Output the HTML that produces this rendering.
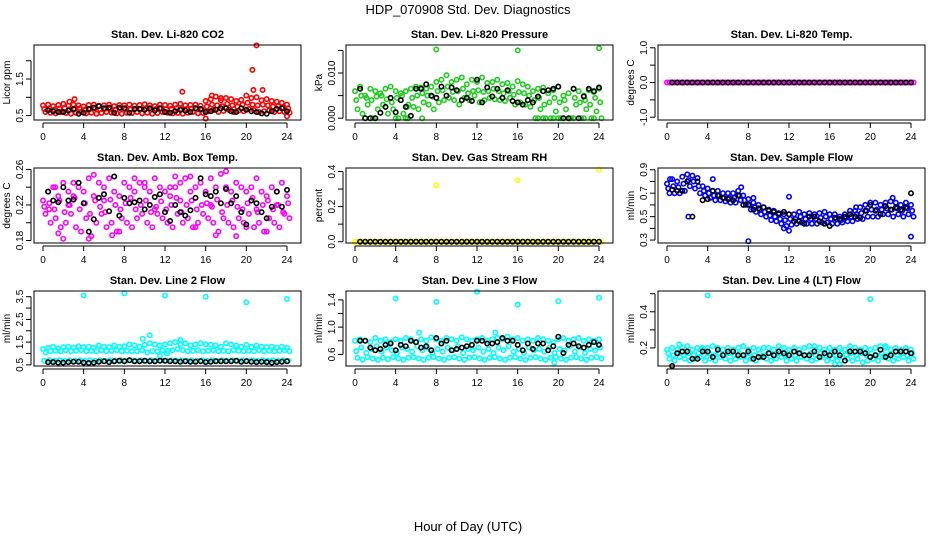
<!DOCTYPE html>
<html><head><meta charset="utf-8"><style>
body{margin:0;background:#fff}
svg{display:block;font-family:"Liberation Sans",Arial,sans-serif}
</style></head><body>
<svg id="chart" width="936" height="540" viewBox="0 0 936 540">
<text x="468" y="14" text-anchor="middle" font-size="13">HDP_070908  Std. Dev. Diagnostics</text>
<text x="468" y="531" text-anchor="middle" font-size="13">Hour of Day (UTC)</text>
</svg>
<script>
const hours = [0,4,8,12,16,20,24];
const co2Hi = [0.78,0.8,0.76,0.79,0.82,0.77,0.8,0.78,0.75,0.79,0.8,0.77,0.78,0.8,0.76,0.79,0.78,0.8,0.77,0.79,0.81,0.78,0.76,0.8,0.79,0.77,0.8,0.82,0.78,0.79,0.8,0.77,0.9,0.95,1.02,0.92,0.98,0.95,0.9,0.93,1.05,0.98,1.0,0.92,0.95,0.9,0.88,0.85,0.8];
const co2Lo = [0.6,0.58,0.56,0.6,0.57,0.55,0.58,0.6,0.56,0.58,0.55,0.57,0.6,0.58,0.56,0.55,0.58,0.57,0.6,0.56,0.58,0.55,0.57,0.6,0.58,0.56,0.57,0.55,0.58,0.6,0.56,0.57,0.62,0.65,0.6,0.63,0.66,0.6,0.64,0.62,0.68,0.65,0.6,0.62,0.64,0.6,0.62,0.6,0.58];
const co2Mid = [0.68,0.7,0.66,0.69,0.7,0.67,0.68,0.7,0.66,0.68,0.7,0.67,0.69,0.68,0.66,0.7,0.68,0.67,0.69,0.68,0.7,0.66,0.68,0.69,0.67,0.68,0.7,0.67,0.68,0.69,0.68,0.67,0.75,0.8,0.78,0.76,0.82,0.78,0.75,0.8,0.85,0.8,0.78,0.8,0.78,0.75,0.76,0.72,0.7];
const co2OutX = [3.1,13.7,16,16.6,20.6,20.7,21,21.6,24,2.6,17.5];
const co2OutY = [0.95,1.15,0.42,1.05,1.75,1.2,2.42,1.2,0.48,0.88,0.98];
const co2Blk = [0.65,0.62,0.6,0.6,0.64,0.68,0.55,0.58,0.68,0.72,0.76,0.7,0.72,0.58,0.72,0.7,0.58,0.68,0.68,0.66,0.7,0.64,0.7,0.6,0.58,0.62,0.66,0.64,0.6,0.7,0.68,0.6,0.62,0.66,0.7,0.7,0.62,0.6,0.7,0.66,0.62,0.6,0.56,0.55,0.62,0.68,0.7,0.62];

const prsHi = [0.006,0.007,0.005,0.0065,0.006,0.0055,0.0065,0.007,0.006,0.0055,0.006,0.0065,0.007,0.0068,0.0065,0.007,0.008,0.0085,0.0095,0.008,0.0085,0.009,0.0075,0.0085,0.008,0.009,0.0078,0.008,0.0085,0.0075,0.0078,0.007,0.0082,0.0075,0.007,0.006,0.0065,0.0068,0.0055,0.0062,0.007,0.005,0.0055,0.0065,0.006,0.005,0.0062,0.0058,0.0065];
const prsLo = [0.002,0.001,0.003,0,0.002,0.003,0.001,0.002,0,0.001,0.003,0.0025,0.002,0.0035,0.003,0.002,0.0035,0.004,0.0045,0.004,0.003,0.0045,0.004,0.005,0.0035,0.004,0.0045,0.0042,0.004,0.0038,0.0045,0.003,0.0035,0.003,0.0025,0,0.002,0,0,0.0015,0,0.002,0,0.003,0,0.002,0,0.0015,0];
const prsMid = [0.004,0.005,0.0045,0.004,0.0048,0.005,0.0042,0.0035,0.0045,0.005,0.0025,0.0045,0.005,0.0055,0.005,0.0048,0.006,0.0062,0.007,0.0058,0.006,0.0065,0.0055,0.006,0.0062,0.0058,0.006,0.0065,0.006,0.0055,0.006,0.0052,0.0058,0.0055,0.005,0.004,0.0045,0.003,0.0035,0.0045,0.0035,0.004,0,0.0045,0.0035,0.004,0.003,0.0045,0.0035];
const prsOutX = [8,16,24,1,1.5,2,4,5,5.2,6.6,18,18.5,19.5,20,20.5,21.5,22.5,23.5];
const prsOutY = [0.0152,0.015,0.0155,0,0,0,0,0,0,0,0,0,0,0,0,0,0,0];
const prsBlk = [0.0065,0,0,0,0.0012,0.0025,0.0045,0.0013,0.004,0.0025,0.0005,0.0065,0.0065,0.0075,0.005,0.0045,0.007,0.005,0.0068,0.0062,0.004,0.0045,0.0038,0.0085,0.0035,0.0068,0.0048,0.0065,0.0045,0.0062,0.0038,0.0035,0.003,0.004,0.0035,0.0048,0.006,0.0062,0.0065,0.007,0,0,0.0065,0,0.0048,0.0065,0.006,0.0068];

const tmpHi = [0,0,0,0,0,0,0,0,0,0,0,0,0,0,0,0,0,0,0,0,0,0,0,0,0,0,0,0,0,0,0,0,0,0,0,0,0,0,0,0,0,0,0,0,0,0,0,0,0];
const tmpLo = [0,0,0,0,0,0,0,0,0,0,0,0,0,0,0,0,0,0,0,0,0,0,0,0,0,0,0,0,0,0,0,0,0,0,0,0,0,0,0,0,0,0,0,0,0,0,0,0,0];
const tmpOutX = [];
const tmpOutY = [];
const tmpBlk = [0,0,0,0,0,0,0,0,0,0,0,0,0,0,0,0,0,0,0,0,0,0,0,0,0,0,0,0,0,0,0,0,0,0,0,0,0,0,0,0,0,0,0,0,0,0,0,0];

const ambHi = [0.225,0.235,0.24,0.23,0.245,0.235,0.23,0.24,0.235,0.25,0.23,0.245,0.24,0.25,0.235,0.23,0.245,0.24,0.235,0.245,0.24,0.235,0.25,0.24,0.235,0.23,0.24,0.245,0.25,0.235,0.24,0.245,0.235,0.25,0.24,0.255,0.24,0.235,0.245,0.24,0.235,0.24,0.25,0.235,0.23,0.24,0.235,0.245,0.23];
const ambLo = [0.21,0.2,0.205,0.195,0.2,0.21,0.195,0.19,0.205,0.185,0.2,0.21,0.195,0.2,0.19,0.205,0.2,0.195,0.205,0.21,0.2,0.195,0.21,0.205,0.2,0.195,0.21,0.2,0.205,0.195,0.2,0.21,0.205,0.2,0.19,0.205,0.2,0.195,0.205,0.2,0.21,0.195,0.2,0.19,0.205,0.2,0.195,0.21,0.205];
const ambMid = [0.218,0.222,0.215,0.225,0.212,0.22,0.228,0.215,0.222,0.21,0.225,0.218,0.212,0.226,0.22,0.215,0.222,0.228,0.215,0.22,0.225,0.212,0.218,0.224,0.215,0.22,0.228,0.212,0.22,0.225,0.215,0.22,0.222,0.218,0.226,0.212,0.22,0.225,0.218,0.215,0.222,0.228,0.212,0.22,0.225,0.215,0.22,0.212,0.222];
const ambOutX = [1.5,2,4.5,6.8,5,9,13,14.5,17,19,1.2,3,7.5,10,12.5,15,18,20,22,0.6,2.5,6,8.5,11,13.5,16.5,21,23];
const ambOutY = [0.188,0.182,0.182,0.186,0.254,0.25,0.252,0.252,0.186,0.185,0.24,0.245,0.19,0.245,0.24,0.195,0.258,0.195,0.19,0.215,0.22,0.225,0.222,0.215,0.225,0.22,0.215,0.22];
const ambBlk = [0.235,0.225,0.223,0.24,0.225,0.226,0.245,0.222,0.19,0.204,0.228,0.232,0.213,0.252,0.208,0.228,0.222,0.223,0.225,0.215,0.22,0.229,0.232,0.212,0.202,0.22,0.212,0.208,0.214,0.228,0.25,0.232,0.23,0.235,0.222,0.238,0.222,0.23,0.212,0.198,0.225,0.222,0.212,0.205,0.218,0.235,0.218,0.237];

const rhHi = [0,0,0,0,0,0,0,0,0,0,0,0,0,0,0,0,0,0,0,0,0,0,0,0,0,0,0,0,0,0,0,0,0,0,0,0,0,0,0,0,0,0,0,0,0,0,0,0,0];
const rhLo = [0,0,0,0,0,0,0,0,0,0,0,0,0,0,0,0,0,0,0,0,0,0,0,0,0,0,0,0,0,0,0,0,0,0,0,0,0,0,0,0,0,0,0,0,0,0,0,0,0];
const rhOutX = [8,16,24];
const rhOutY = [0.32,0.35,0.41];
const rhBlk = [0,0,0,0,0,0,0,0,0,0,0,0,0,0,0,0,0,0,0,0,0,0,0,0,0,0,0,0,0,0,0,0,0,0,0,0,0,0,0,0,0,0,0,0,0,0,0,0];

const sfHi = [0.78,0.82,0.8,0.84,0.86,0.85,0.83,0.76,0.74,0.72,0.72,0.7,0.7,0.7,0.72,0.68,0.65,0.62,0.6,0.58,0.56,0.55,0.53,0.52,0.52,0.52,0.54,0.52,0.53,0.52,0.53,0.54,0.52,0.52,0.5,0.52,0.55,0.55,0.58,0.6,0.62,0.62,0.6,0.62,0.63,0.62,0.6,0.62,0.6];
const sfLo = [0.7,0.7,0.7,0.72,0.76,0.74,0.7,0.68,0.66,0.64,0.64,0.63,0.62,0.62,0.64,0.6,0.56,0.54,0.52,0.5,0.47,0.46,0.44,0.42,0.43,0.44,0.45,0.44,0.44,0.44,0.45,0.45,0.44,0.44,0.45,0.46,0.46,0.48,0.48,0.5,0.5,0.5,0.52,0.52,0.5,0.52,0.5,0.52,0.5];
const sfMid = [0.74,0.76,0.75,0.78,0.81,0.8,0.76,0.72,0.7,0.68,0.68,0.66,0.66,0.66,0.68,0.64,0.6,0.58,0.56,0.54,0.51,0.5,0.48,0.47,0.48,0.48,0.5,0.48,0.48,0.48,0.49,0.5,0.48,0.48,0.47,0.49,0.5,0.52,0.53,0.55,0.56,0.56,0.56,0.57,0.56,0.57,0.55,0.57,0.55];
const sfOutX = [8,16,24,12,2.1,0.3,4.5,7.3,8.5,11.5,12,18.6,22.2];
const sfOutY = [0.29,0.27,0.33,0.67,0.5,0.82,0.82,0.75,0.66,0.4,0.38,0.58,0.66];
const sfBlk = [0.73,0.72,0.72,0.8,0.5,0.8,0.64,0.65,0.72,0.68,0.66,0.65,0.64,0.68,0.6,0.6,0.56,0.57,0.58,0.55,0.54,0.52,0.54,0.52,0.46,0.46,0.44,0.5,0.5,0.46,0.44,0.42,0.49,0.48,0.5,0.52,0.5,0.49,0.55,0.6,0.55,0.52,0.59,0.56,0.58,0.56,0.58,0.7];

const l2Hi = [1.2,1.25,1.3,1.22,1.28,1.3,1.25,1.32,1.28,1.3,1.25,1.35,1.3,1.28,1.35,1.3,1.32,1.4,1.35,1.3,1.38,1.45,1.4,1.35,1.4,1.45,1.5,1.4,1.45,1.35,1.4,1.45,1.4,1.38,1.35,1.3,1.45,1.4,1.35,1.3,1.38,1.3,1.35,1.3,1.28,1.3,1.25,1.3,1.25];
const l2Lo = [1.05,1.1,1.12,1.1,1.15,1.1,1.12,1.15,1.1,1.12,1.1,1.15,1.1,1.12,1.15,1.1,1.12,1.1,1.1,1.15,1.05,1.1,1.1,1.15,1.12,1.15,1.2,1.15,1.1,1.12,1.15,1.1,1.12,1.15,1.1,1.12,1.1,1.15,1.12,1.1,1.12,1.1,1.15,1.1,1.12,1.1,1.12,1.15,1.1];
const l2Ex = [0.68,0.7,0.68,0.7,0.68,0.7,0.68,0.7,0.68,0.7,0.68,0.7,0.68,0.7,0.68,0.7,0.68,0.7,0.68,0.7,0.68,0.7,0.68,0.7,0.68,0.7,0.68,0.7,0.68,0.7,0.68,0.7,0.68,0.7,0.68,0.7,0.68,0.7,0.68,0.7,0.68,0.7,0.68,0.7,0.68,0.7,0.68,0.7,0.68];
const l2OutX = [4,8,12,16,20,24,10.5,9.8,11.5,13.5,12.2];
const l2OutY = [3.55,3.65,3.55,3.5,3.25,3.4,1.8,1.65,0.9,1.6,1.0];
const l2Blk = [0.62,0.62,0.6,0.6,0.62,0.64,0.64,0.6,0.58,0.6,0.64,0.66,0.62,0.66,0.68,0.66,0.7,0.66,0.66,0.68,0.66,0.66,0.68,0.68,0.66,0.66,0.64,0.66,0.64,0.64,0.66,0.62,0.64,0.66,0.66,0.66,0.66,0.68,0.64,0.66,0.64,0.62,0.64,0.62,0.6,0.62,0.64,0.66];

const l3Hi = [0.8,0.82,0.8,0.78,0.84,0.8,0.82,0.78,0.82,0.8,0.84,0.82,0.78,0.82,0.8,0.85,0.82,0.8,0.84,0.82,0.8,0.85,0.82,0.8,0.82,0.84,0.8,0.82,0.84,0.82,0.86,0.82,0.84,0.8,0.82,0.8,0.84,0.82,0.8,0.78,0.82,0.84,0.8,0.82,0.84,0.8,0.82,0.8,0.82];
const l3Lo = [0.55,0.52,0.56,0.54,0.52,0.55,0.53,0.56,0.54,0.52,0.55,0.56,0.54,0.52,0.55,0.56,0.54,0.52,0.55,0.56,0.54,0.52,0.55,0.56,0.54,0.52,0.55,0.56,0.54,0.52,0.55,0.56,0.54,0.52,0.55,0.56,0.54,0.52,0.55,0.56,0.54,0.52,0.55,0.56,0.54,0.52,0.55,0.56,0.54];
const l3Ex = [0.65,0.7,0.62,0.68,0.72,0.64,0.7,0.66,0.62,0.7,0.68,0.64,0.72,0.66,0.7,0.62,0.68,0.64,0.7,0.66,0.72,0.62,0.68,0.66,0.7,0.64,0.68,0.62,0.7,0.66,0.72,0.64,0.68,0.62,0.7,0.66,0.68,0.64,0.7,0.62,0.68,0.66,0.72,0.64,0.7,0.62,0.68,0.66,0.7];
const l3OutX = [4,8,12,16,20,24,6.3,13.8,19.6];
const l3OutY = [1.42,1.37,1.52,1.33,1.38,1.43,0.92,0.92,0.48];
const l3Blk = [0.8,0.8,0.7,0.66,0.68,0.74,0.76,0.66,0.74,0.72,0.8,0.78,0.7,0.72,0.66,0.84,0.76,0.8,0.66,0.68,0.7,0.72,0.74,0.8,0.8,0.76,0.76,0.78,0.84,0.8,0.8,0.74,0.66,0.76,0.68,0.76,0.76,0.66,0.72,0.86,0.62,0.74,0.76,0.72,0.7,0.74,0.78,0.74];

const l4Hi = [0.19,0.2,0.19,0.2,0.21,0.19,0.2,0.19,0.2,0.21,0.2,0.19,0.2,0.19,0.2,0.21,0.19,0.2,0.19,0.2,0.2,0.19,0.21,0.2,0.19,0.2,0.19,0.2,0.21,0.19,0.2,0.19,0.2,0.19,0.2,0.19,0.21,0.2,0.19,0.2,0.19,0.2,0.21,0.2,0.19,0.2,0.19,0.2,0.19];
const l4Lo = [0.14,0.13,0.15,0.14,0.13,0.14,0.15,0.13,0.14,0.13,0.15,0.14,0.13,0.14,0.15,0.13,0.14,0.13,0.15,0.14,0.13,0.14,0.15,0.13,0.14,0.13,0.15,0.14,0.13,0.14,0.15,0.13,0.14,0.13,0.15,0.14,0.13,0.14,0.12,0.13,0.14,0.13,0.15,0.14,0.13,0.14,0.15,0.13,0.14];
const l4Ex = [0.17,0.16,0.17,0.16,0.17,0.16,0.17,0.16,0.17,0.16,0.17,0.16,0.17,0.16,0.17,0.16,0.17,0.16,0.17,0.16,0.17,0.16,0.17,0.16,0.17,0.16,0.17,0.16,0.17,0.16,0.17,0.16,0.17,0.16,0.17,0.16,0.17,0.16,0.17,0.16,0.17,0.16,0.17,0.16,0.17,0.16,0.17,0.16,0.17];
const l4OutX = [4,12,20,1.2,3.5,7.5,14.5,17,21.5,16.5];
const l4OutY = [0.49,0.52,0.47,0.22,0.2,0.21,0.21,0.11,0.21,0.11];
const l4Blk = [0.1,0.17,0.18,0.18,0.14,0.14,0.18,0.18,0.15,0.19,0.16,0.18,0.18,0.16,0.16,0.18,0.14,0.15,0.15,0.17,0.16,0.18,0.17,0.16,0.18,0.17,0.16,0.16,0.18,0.15,0.17,0.16,0.18,0.16,0.13,0.18,0.18,0.18,0.17,0.15,0.16,0.19,0.15,0.16,0.18,0.18,0.18,0.17];

const titles = ["Stan. Dev. Li-820 CO2","Stan. Dev. Li-820 Pressure","Stan. Dev. Li-820 Temp.","Stan. Dev. Amb. Box Temp.","Stan. Dev. Gas Stream RH","Stan. Dev. Sample Flow","Stan. Dev. Line 2 Flow","Stan. Dev. Line 3 Flow","Stan. Dev. Line 4 (LT) Flow"];
const yLabels = ["Licor ppm","kPa","degrees C","degrees C","percent","ml/min","ml/min","ml/min","ml/min"];
const yTicks = [[0.5,1,1.5,2],[0,0.005,0.01,0.015],[-1,-0.5,0,0.5,1],[0.18,0.2,0.22,0.24,0.26],[0,0.1,0.2,0.3,0.4],[0.3,0.4,0.5,0.6,0.7,0.8,0.9],[0.5,1,1.5,2,2.5,3,3.5],[0.6,0.8,1,1.2,1.4],[0.2,0.3,0.4,0.5]];
const yTickText = [["0.5","","1.5",""],["0.000","","0.010",""],["-1.0","","0.0","","1.0"],["0.18","","0.22","","0.26"],["0.0","","0.2","","0.4"],["0.3","","0.5","","0.7","","0.9"],["0.5","","1.5","","2.5","","3.5"],["0.6","","1.0","","1.4"],["0.2","","0.4",""]];
const yMin = [0.38,-0.0004,-1.08,0.1772,-0.0075,0.275,0.45,0.43,0.1];
const yMax = [2.43,0.0162,1.08,0.2616,0.42,0.915,3.75,1.53,0.515];
const colors = ["#ff0000","#22cc22","#ff00ff","#ff00ff","#ffff00","#0000ff","#00ffff","#00ffff","#00ffff"];
const his = [co2Hi,prsHi,tmpHi,ambHi,rhHi,sfHi,l2Hi,l3Hi,l4Hi];
const los = [co2Lo,prsLo,tmpLo,ambLo,rhLo,sfLo,l2Lo,l3Lo,l4Lo];
const exs = [co2Mid,prsMid,null,ambMid,null,sfMid,l2Ex,l3Ex,l4Ex];
const outXs = [co2OutX,prsOutX,tmpOutX,ambOutX,rhOutX,sfOutX,l2OutX,l3OutX,l4OutX];
const outYs = [co2OutY,prsOutY,tmpOutY,ambOutY,rhOutY,sfOutY,l2OutY,l3OutY,l4OutY];
const blks = [co2Blk,prsBlk,tmpBlk,ambBlk,rhBlk,sfBlk,l2Blk,l3Blk,l4Blk];

const NS = "http://www.w3.org/2000/svg";
const svg = document.getElementById("chart");
function mk(tag, attrs, parent){const e=document.createElementNS(NS,tag);for(const k in attrs)e.setAttribute(k,attrs[k]);parent.appendChild(e);return e;}

for(let p=0;p<9;p++){
  const col=p%3,row=Math.floor(p/3);
  const bx=34+312*col, bw=267, by=45+123*row, bh=75;
  const x0=bx+9, xs=244/24;
  const X=h=>x0+h*xs;
  const Y=v=>by+bh-(v-yMin[p])/(yMax[p]-yMin[p])*bh;
  const g=mk("g",{},svg);
  
  
  const t=mk("text",{x:bx+bw/2,y:by-7,"text-anchor":"middle","font-size":"11","font-weight":"bold"},g);
  t.textContent=titles[p];
  
  
  const yl=mk("text",{transform:`translate(${bx-24},${by+bh/2}) rotate(-90)`,"text-anchor":"middle","font-size":"10"},g);
  yl.textContent=yLabels[p];
  
  
  const pts=mk("g",{fill:"none","stroke-width":"1.6"},g);
  
  
  const dot=(h,v,c)=>{if(v<yMin[p]||v>yMax[p])return;const c1=mk("circle",{cx:X(h).toFixed(1),cy:Y(v).toFixed(1),r:2.2,stroke:c},pts);
    
    };
  his[p].forEach((v,i)=>dot(i*0.5,v,colors[p]));
  los[p].forEach((v,i)=>dot(i*0.5+0.25,v,colors[p]));
  if(exs[p]) exs[p].forEach((v,i)=>dot(i*0.5+0.12,v,colors[p]));
  outXs[p].forEach((h,i)=>dot(h,outYs[p][i],colors[p]));
  blks[p].forEach((v,i)=>dot((i+1)*0.5,v,"#000"));
  const r=mk("rect",{x:bx,y:by,width:bw,height:bh,fill:"none",stroke:"#000","stroke-width":"1"},g);
  
  
  const xa=mk("g",{},g);
  
  
  mk("line",{x1:X(0),x2:X(24),y1:by+bh+3,y2:by+bh+3,stroke:"#000"},xa);
  hours.forEach(h=>{mk("line",{x1:X(h),x2:X(h),y1:by+bh+3,y2:by+bh+8,stroke:"#000"},xa);
    const tt=mk("text",{x:X(h),y:by+bh+20,"text-anchor":"middle","font-size":"10"},xa);tt.textContent=h;
    
    });
  const ya=mk("g",{},g);
  
  
  const tk=yTicks[p];
  mk("line",{x1:bx-3,x2:bx-3,y1:Y(tk[0]),y2:Y(tk[tk.length-1]),stroke:"#000"},ya);
  tk.forEach((v,i)=>{mk("line",{x1:bx-3,x2:bx-8,y1:Y(v),y2:Y(v),stroke:"#000"},ya);
    if(yTickText[p][i]){const tt=mk("text",{transform:`translate(${bx-11},${Y(v)}) rotate(-90)`,"text-anchor":"middle","font-size":"10"},ya);tt.textContent=yTickText[p][i];
    
    }});
}
</script>
</body></html>
